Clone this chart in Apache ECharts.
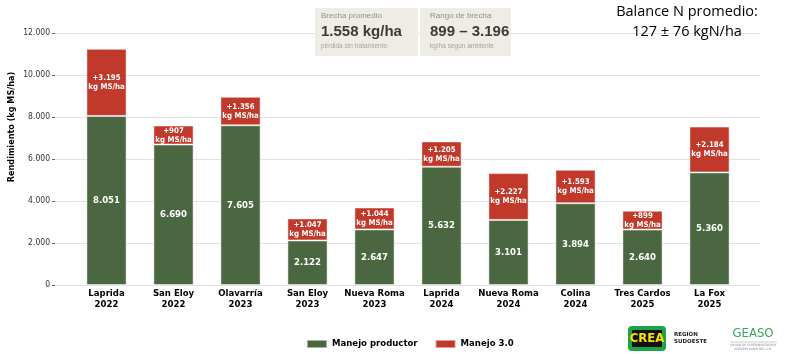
<!DOCTYPE html>
<html>
<head>
<meta charset="utf-8">
<script src="https://cdn.jsdelivr.net/npm/echarts@6/dist/echarts.min.js"></script>
<style>
html,body{margin:0;padding:0;background:#fff;}
#chart{width:790px;height:354px;}
</style>
</head>
<body>
<div id="chart"></div>
<script>
const categories = ["Laprida\n2022","San Eloy\n2022","Olavarría\n2023","San Eloy\n2023","Nueva Roma\n2023","Laprida\n2024","Nueva Roma\n2024","Colina\n2024","Tres Cardos\n2025","La Fox\n2025"];
const productor = [8051,6690,7605,2122,2647,5632,3101,3894,2640,5360];
const manejo30 = [3195,907,1356,1047,1044,1205,2227,1593,899,2184];
const yTicks = [0,2000,4000,6000,8000,10000,12000];
const seriesNames = ["Manejo productor","Manejo 3.0"];

const GREEN = '#4a6741';
const RED = '#c0392b';
const FONT = 'DejaVu Sans Condensed';

function fmt(v){ return String(v).replace(/\B(?=(\d{3})+(?!\d))/g,'.'); }

const chart = echarts.init(document.getElementById('chart'), null, {renderer:'canvas'});
const yMin = yTicks[0], yMax = yTicks[yTicks.length-1];

const option = {
  animation:false,
  backgroundColor:'#fff',
  textStyle:{fontFamily:FONT},
  grid:[
    {left:55, right:30, top:33, bottom:69},
    {left:73, right:47, top:33, bottom:69}
  ],
  xAxis:[
    {type:'value', gridIndex:0, min:0, max:1, show:false},
    {type:'category', gridIndex:1, data:categories,
     axisLine:{show:false}, axisTick:{show:false},
     axisLabel:{interval:0, color:'#000', fontFamily:FONT, fontWeight:'bold', fontSize:9.5, lineHeight:11, margin:3}}
  ],
  yAxis:[
    {type:'value', gridIndex:0, min:yMin, max:yMax, interval:2000,
     axisLine:{show:false},
     axisTick:{show:true, length:3, lineStyle:{color:'#666'}},
     axisLabel:{color:'#333', fontSize:8.5, fontFamily:FONT, margin:5, formatter:v=>fmt(v)},
     splitLine:{show:true, lineStyle:{color:'#e3e3e3', width:1}}},
    {type:'value', gridIndex:1, min:yMin, max:yMax, interval:2000, show:false, splitLine:{show:false}}
  ],
  legend:{
    data:seriesNames, top:334, left:301, itemWidth:20, itemHeight:8, itemGap:17,
    icon:'rect',
    textStyle:{fontFamily:FONT, fontWeight:'bold', fontSize:9.5, color:'#000'}
  },
  series:[
    {name:seriesNames[0], type:'bar', stack:'s', xAxisIndex:1, yAxisIndex:1, data:productor,
     barWidth:'60%', itemStyle:{color:GREEN, borderColor:'rgba(255,255,255,0.5)', borderWidth:1},
     label:{show:true, position:'inside', color:'#fff', fontFamily:FONT, fontWeight:'bold', fontSize:9.5, formatter:p=>fmt(p.value)}},
    {name:seriesNames[1], type:'bar', stack:'s', xAxisIndex:1, yAxisIndex:1, data:manejo30,
     barWidth:'60%', itemStyle:{color:RED, borderColor:'rgba(255,255,255,0.5)', borderWidth:1},
     label:{show:true, position:'inside', color:'#fff', fontFamily:FONT, fontWeight:'bold', fontSize:7.8, lineHeight:9, formatter:p=>'+'+fmt(p.value)+'\nkg MS/ha'}}
  ],
  graphic:[
    {type:'text', x:12, y:127, rotation:Math.PI/2, z:100,
     style:{text:'Rendimiento (kg MS/ha)', font:'bold 9px "DejaVu Sans Condensed"', fill:'#000', textAlign:'center', textVerticalAlign:'middle'}},
    {type:'rect', z:100, shape:{x:315, y:8, width:103, height:48}, style:{fill:'#efece5'}},
    {type:'rect', z:100, shape:{x:420, y:8, width:91, height:48}, style:{fill:'#efece5'}},
    {type:'text', z:101, x:321, y:16, style:{text:'Brecha promedio', font:'8px "Liberation Sans"', fill:'#8f8f8f', textVerticalAlign:'middle'}},
    {type:'text', z:101, x:321, y:32, style:{text:'1.558 kg/ha', font:'bold 15px "Liberation Sans"', fill:'#3a3a3a', textVerticalAlign:'middle'}},
    {type:'text', z:101, x:321, y:46, style:{text:'pérdida sin tratamiento', font:'6.5px "Liberation Sans"', fill:'#a3a3a3', textVerticalAlign:'middle'}},
    {type:'text', z:101, x:430, y:16, style:{text:'Rango de brecha', font:'8px "Liberation Sans"', fill:'#8f8f8f', textVerticalAlign:'middle'}},
    {type:'text', z:101, x:430, y:32, style:{text:'899 – 3.196', font:'bold 15px "Liberation Sans"', fill:'#3a3a3a', textVerticalAlign:'middle'}},
    {type:'text', z:101, x:430, y:46, style:{text:'kg/ha según ambiente', font:'6.5px "Liberation Sans"', fill:'#a3a3a3', textVerticalAlign:'middle'}},
    {type:'text', z:101, x:687, y:12, style:{text:'Balance N promedio:', font:'14.5px "Open Sans"', fill:'#000', textAlign:'center', textVerticalAlign:'middle'}},
    {type:'text', z:101, x:687, y:32, style:{text:'127 ± 76 kgN/ha', font:'14.5px "Open Sans"', fill:'#000', textAlign:'center', textVerticalAlign:'middle'}},
    {type:'rect', z:100, shape:{x:628, y:326, width:38, height:25, r:4}, style:{fill:'#1fa34a'}},
    {type:'rect', z:100, shape:{x:632, y:330, width:30, height:17, r:1}, style:{fill:'#111'}},
    {type:'text', z:101, x:647, y:338.5, style:{text:'CREA', font:'bold 13px "DejaVu Sans Condensed"', fill:'#f5e000', textAlign:'center', textVerticalAlign:'middle'}},
    {type:'text', z:101, x:674, y:335, style:{text:'REGIÓN', font:'bold 5.5px "DejaVu Sans"', fill:'#222', textVerticalAlign:'middle'}},
    {type:'text', z:101, x:674, y:342, style:{text:'SUDOESTE', font:'bold 5.5px "DejaVu Sans"', fill:'#222', textVerticalAlign:'middle'}},
    {type:'text', z:101, x:753, y:334, style:{text:'GEASO', font:'13px "DejaVu Sans Condensed"', fill:'#3aa65a', textAlign:'center', textVerticalAlign:'middle'}},
    {type:'line', z:100, shape:{x1:730, y1:342, x2:777, y2:342}, style:{stroke:'#999', lineWidth:0.5}},
    {type:'text', z:101, x:753, y:345.5, style:{text:'GRUPO DE EXPERIMENTACIÓN', font:'3px "DejaVu Sans"', fill:'#888', textAlign:'center', textVerticalAlign:'middle'}},
    {type:'text', z:101, x:753, y:349.5, style:{text:'AGROPECUARIA DEL S.O.', font:'3px "DejaVu Sans"', fill:'#888', textAlign:'center', textVerticalAlign:'middle'}}
  ]
};
chart.setOption(option);
</script>
</body>
</html>
